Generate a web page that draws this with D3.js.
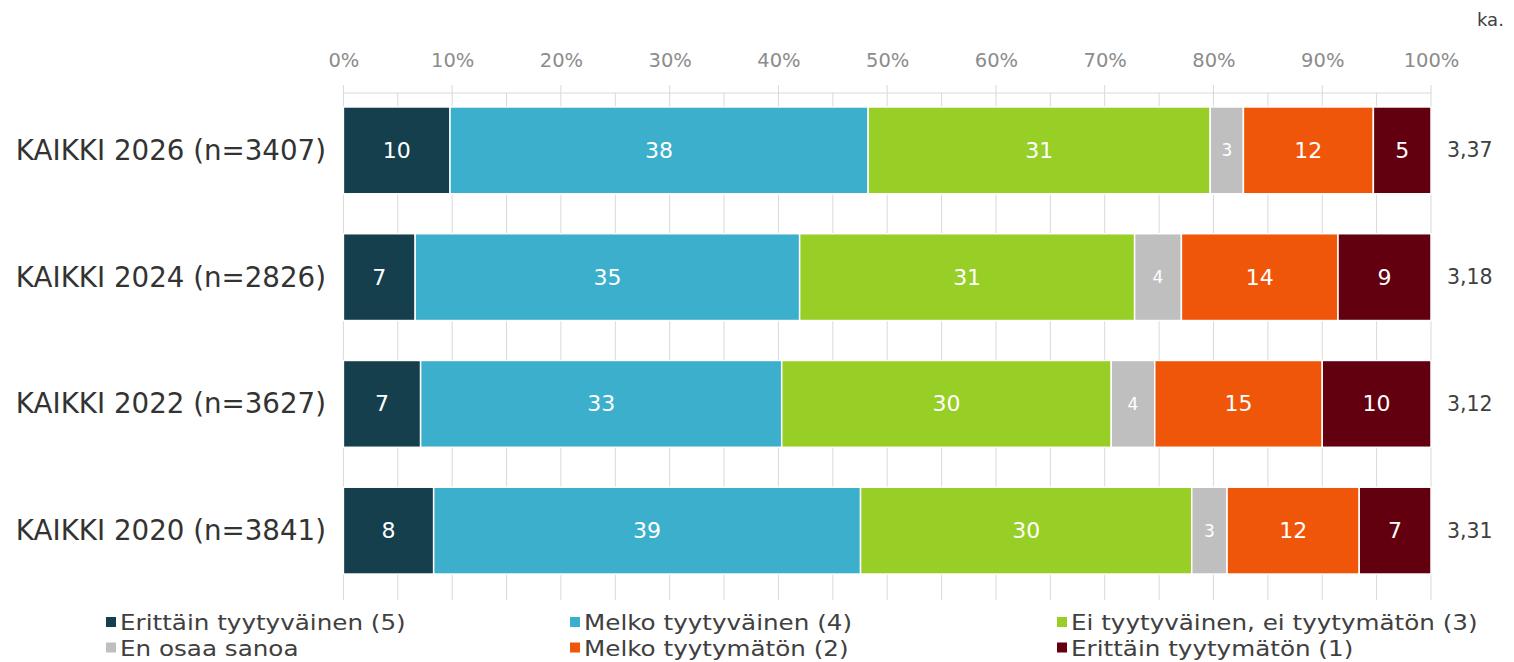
<!DOCTYPE html>
<html>
<head>
<meta charset="utf-8">
<script src="https://cdn.jsdelivr.net/npm/d3@7"></script>
<style>
  html, body { margin: 0; padding: 0; background: #fff; }
  svg { display: block; font-family: "DejaVu Sans", Verdana, sans-serif; }
</style>
</head>
<body>
<svg id="chart" width="1514" height="662"></svg>
<script>
// ---- data ----
const categories = ["KAIKKI 2026 (n=3407)", "KAIKKI 2024 (n=2826)", "KAIKKI 2022 (n=3627)", "KAIKKI 2020 (n=3841)"];
const seriesNames = ["Erittäin tyytyväinen (5)", "Melko tyytyväinen (4)", "Ei tyytyväinen, ei tyytymätön (3)", "En osaa sanoa", "Melko tyytymätön (2)", "Erittäin tyytymätön (1)"];
const erittainTyytyvainen = [9.8, 6.6, 7.1, 8.3];
const melkoTyytyvainen   = [38.45, 35.35, 33.2, 39.25];
const eiTyytyvainen      = [31.45, 30.8, 30.3, 30.45];
const enOsaaSanoa        = [3.05, 4.3, 4.0, 3.25];
const melkoTyytymaton    = [11.95, 14.4, 15.4, 12.15];
const erittainTyytymaton = [5.3, 8.55, 10.0, 6.6];
const averages = ["3,37", "3,18", "3,12", "3,31"];
const xTicks = [0, 10, 20, 30, 40, 50, 60, 70, 80, 90, 100];
const colors = ["#163f4e", "#3bafcb", "#97cf26", "#bfbfbf", "#f0560a", "#620010"];

const seriesValues = [erittainTyytyvainen, melkoTyytyvainen, eiTyytyvainen, enOsaaSanoa, melkoTyytymaton, erittainTyytymaton];
const rows = categories.map((c, i) => {
  const r = { cat: c };
  seriesNames.forEach((s, j) => r[s] = seriesValues[j][i]);
  return r;
});
const stacked = d3.stack().keys(seriesNames)(rows);

const svg = d3.select("#chart");
const x = d3.scaleLinear().domain([0, 100]).range([343.4, 1431]);
const y = d3.scaleBand().domain(categories).range([87, 594]).paddingInner(0.315).paddingOuter(0.1575);

// gridlines every 5%
const grid = d3.range(0, 101, 5);
svg.append("g").selectAll("line").data(grid).join("line")
  .attr("x1", d => x(d)).attr("x2", d => x(d))
  .attr("y1", d => d % 10 === 0 ? 85 : 93).attr("y2", 600)
  .attr("stroke", "#d9d9d9").attr("stroke-width", 1);
// axis line
svg.append("line").attr("x1", x(0)).attr("x2", x(100)).attr("y1", 93).attr("y2", 93)
  .attr("stroke", "#d9d9d9").attr("stroke-width", 1);

// top axis tick labels
const axis = d3.axisTop(x).tickValues(xTicks).tickFormat(d => d + "%").tickSize(0).tickPadding(0);
const ag = svg.append("g").attr("transform", "translate(0,67)").call(axis);
ag.select(".domain").remove();
ag.selectAll("text").attr("font-size", 19.5).attr("fill", "#8c8c8c").attr("font-family", "DejaVu Sans, sans-serif");

// bars
const layers = svg.append("g").selectAll("g").data(stacked).join("g")
  .attr("fill", (d, i) => colors[i]);
layers.selectAll("rect").data(d => d).join("rect")
  .attr("x", d => x(d[0])).attr("width", d => x(d[1]) - x(d[0]))
  .attr("y", d => y(d.data.cat)).attr("height", y.bandwidth())
  .attr("stroke", "#ffffff").attr("stroke-width", 1.5);

// segment labels
layers.selectAll("text").data(d => d).join("text")
  .attr("x", d => (x(d[0]) + x(d[1])) / 2)
  .attr("y", d => y(d.data.cat) + y.bandwidth() / 2)
  .attr("text-anchor", "middle").attr("dominant-baseline", "central")
  .attr("fill", "#ffffff")
  .attr("font-size", function(d) { return this.parentNode.__data__.key === "En osaa sanoa" ? 17 : 22; })
  .text(d => Math.round(d[1] - d[0]));

// category labels
svg.append("g").selectAll("text").data(categories).join("text")
  .attr("x", 326).attr("y", d => y(d) + y.bandwidth() / 2)
  .attr("text-anchor", "end").attr("dominant-baseline", "central")
  .attr("font-size", 27.7).attr("fill", "#333333")
  .text(d => d);

// averages
svg.append("g").selectAll("text").data(categories).join("text")
  .attr("x", 1447).attr("y", d => y(d) + y.bandwidth() / 2)
  .attr("dominant-baseline", "central")
  .attr("font-size", 20.5).attr("fill", "#404040")
  .text((d, i) => averages[i]);
svg.append("text").attr("x", 1477).attr("y", 19).attr("dominant-baseline", "central")
  .attr("font-size", 18).attr("fill", "#404040").text("ka.");

// legend
const legPos = [[106, 622], [570, 622], [1057, 622], [106, 647.5], [570, 647.5], [1057, 647.5]];
const lg = svg.append("g").selectAll("g").data(seriesNames).join("g")
  .attr("transform", (d, i) => `translate(${legPos[i][0]},${legPos[i][1]})`);
lg.append("rect").attr("x", 0).attr("y", -5).attr("width", 10).attr("height", 10)
  .attr("fill", (d, i) => colors[i]);
lg.append("text").attr("transform", "translate(14,1) scale(1.145,1)")
  .attr("x", 0).attr("y", 0).attr("dominant-baseline", "central")
  .attr("font-size", 21.5).attr("fill", "#404040").text(d => d);
</script>
</body>
</html>
